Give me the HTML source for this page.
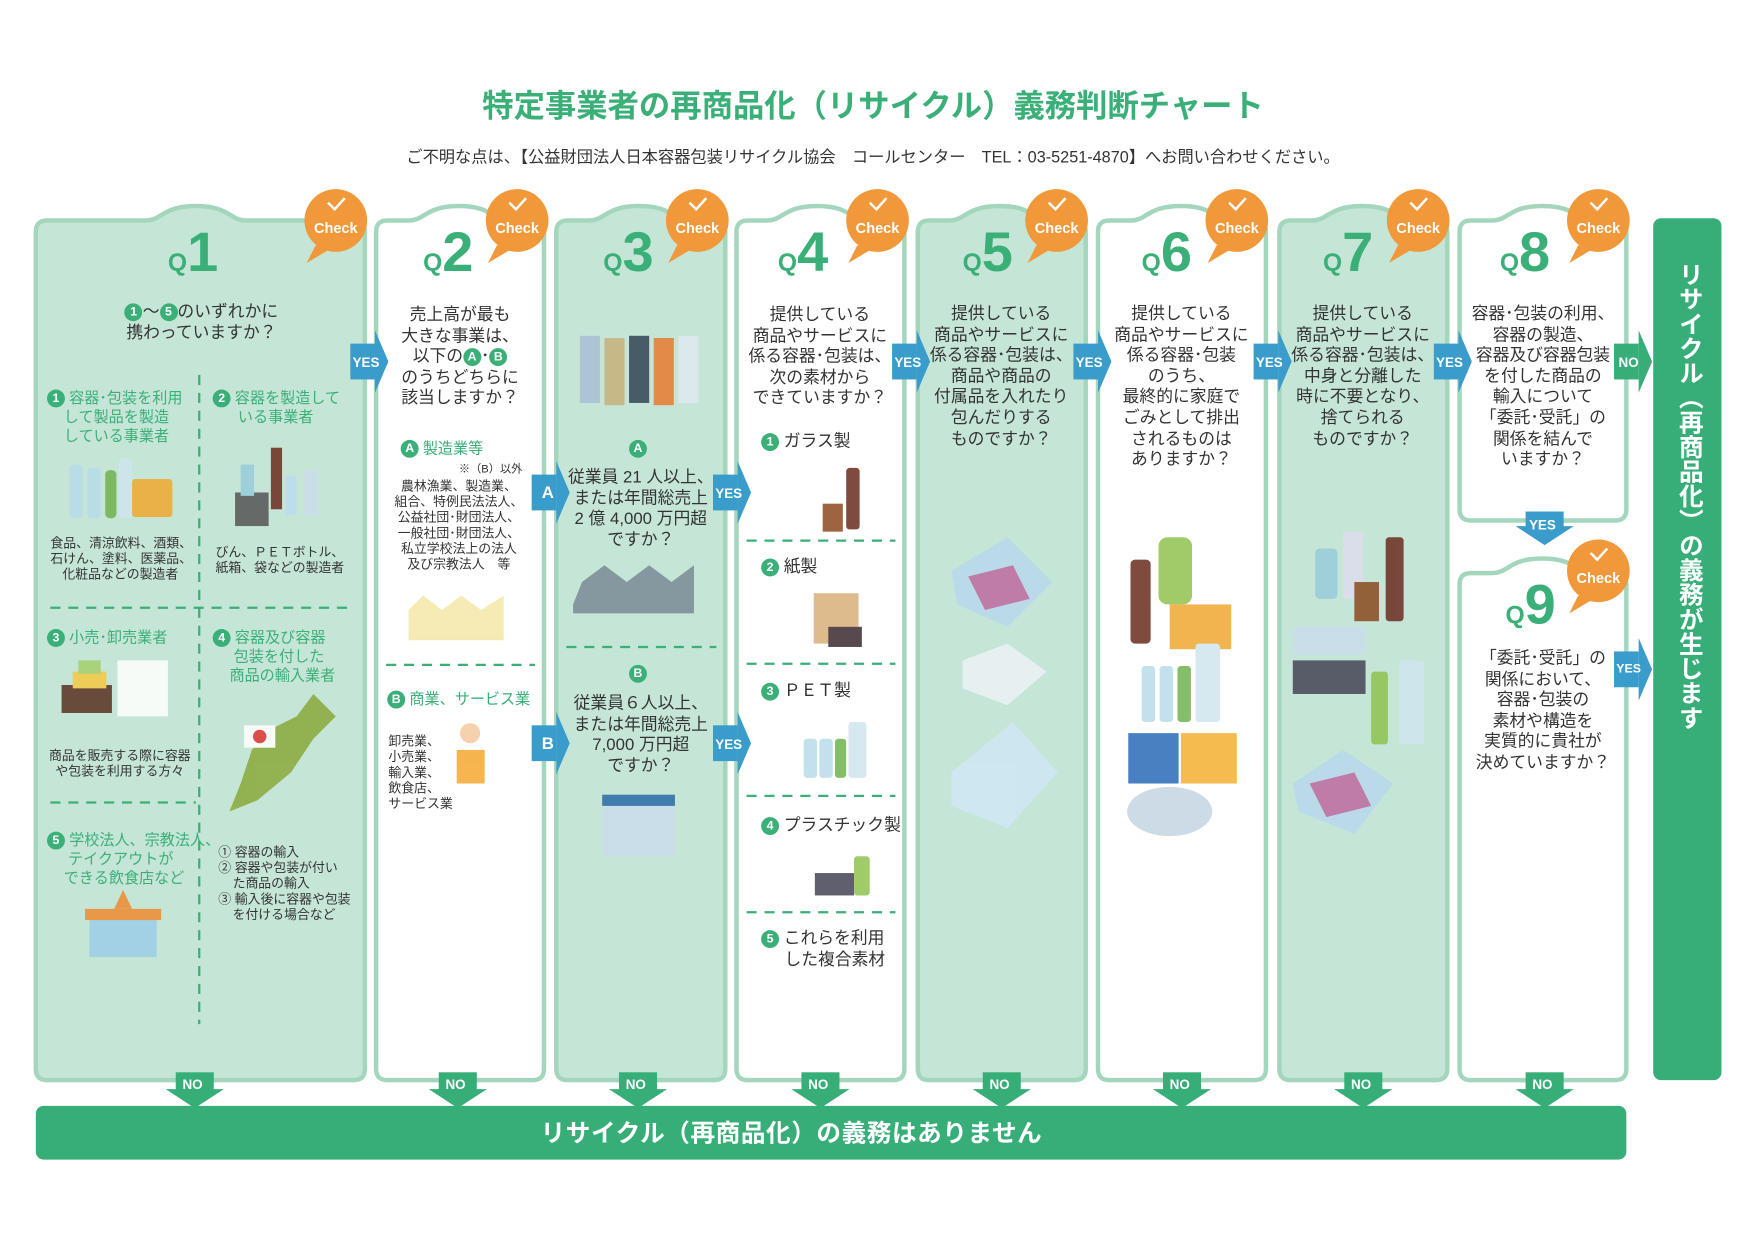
<!DOCTYPE html>
<html><head><meta charset="utf-8"><style>
html,body{margin:0;padding:0;background:#fff;}
body{width:1754px;height:1241px;overflow:hidden;position:relative;font-family:"Liberation Sans","Noto Sans CJK JP",sans-serif;}
#d{position:absolute;left:0;top:0;width:1560px;height:1104px;transform:scale(1.1193);transform-origin:0 0;}
.t{position:absolute;color:#333;font-size:15px;line-height:18.6px;text-align:center;white-space:nowrap;}
.g{color:#3aaf78;}
.s{font-size:11.5px;line-height:14px;}
.m{font-size:13.5px;line-height:17px;}
.c{display:inline-block;width:16px;height:16px;border-radius:50%;background:#3aaf78;color:#fff;font-size:11px;line-height:16px;text-align:center;font-weight:bold;vertical-align:1px;}
.q{position:absolute;color:#3aaf78;font-weight:bold;font-size:50px;line-height:50px;}
.q small{font-size:22px;}
.w{position:absolute;color:#fff;font-weight:bold;font-size:12px;}
</style></head><body><div id="d">
<svg width="1560" height="1104" style="position:absolute;left:0;top:0">
<defs>
<g id="chk"><path d="M-18,22 L-26,38 L-6,26 Z" fill="#f0983a"/><circle r="28" fill="#f0983a"/><path d="M-7,-16 L-1,-10 L8,-20" stroke="#fff" stroke-width="2.2" fill="none"/></g>
<g id="ya"><rect x="0" y="-16" width="22" height="32" fill="#3a9ccb"/><path d="M22,-28 L34,0 L22,28 Z" fill="#3a9ccb"/></g>
<g id="na"><rect x="0" y="-16" width="22" height="32" fill="#37ae78"/><path d="M22,-28 L34,0 L22,28 Z" fill="#37ae78"/></g>
<g id="dn"><rect x="-17" y="0" width="34" height="18" fill="#37ae78"/><path d="M-26,15 L26,15 L0,32 Z" fill="#37ae78"/></g>
</defs>
<g stroke="#a3d6bd" stroke-width="4">
<path d="M32,207 Q32,197 42,197 L130,197 C145,197 145,184 175,184 C205,184 205,197 220,197 L316,197 Q326,197 326,207 L326,955 Q326,965 316,965 L42,965 Q32,965 32,955 Z" fill="#c5e6d6"/>
<path d="M336,207 Q336,197 346,197 L365,197 C380,197 380,184 410,184 C440,184 440,197 455,197 L476,197 Q486,197 486,207 L486,955 Q486,965 476,965 L346,965 Q336,965 336,955 Z" fill="#fff"/>
<path d="M497,207 Q497,197 507,197 L526,197 C541,197 541,184 571,184 C601,184 601,197 616,197 L638,197 Q648,197 648,207 L648,955 Q648,965 638,965 L507,965 Q497,965 497,955 Z" fill="#c5e6d6"/>
<path d="M658,207 Q658,197 668,197 L685,197 C700,197 700,184 730,184 C760,184 760,197 775,197 L798,197 Q808,197 808,207 L808,955 Q808,965 798,965 L668,965 Q658,965 658,955 Z" fill="#fff"/>
<path d="M820,207 Q820,197 830,197 L848,197 C863,197 863,184 893,184 C923,184 923,197 938,197 L960,197 Q970,197 970,207 L970,955 Q970,965 960,965 L830,965 Q820,965 820,955 Z" fill="#c5e6d6"/>
<path d="M981,207 Q981,197 991,197 L1010,197 C1025,197 1025,184 1055,184 C1085,184 1085,197 1100,197 L1121,197 Q1131,197 1131,207 L1131,955 Q1131,965 1121,965 L991,965 Q981,965 981,955 Z" fill="#fff"/>
<path d="M1143,207 Q1143,197 1153,197 L1172,197 C1187,197 1187,184 1217,184 C1247,184 1247,197 1262,197 L1283,197 Q1293,197 1293,207 L1293,955 Q1293,965 1283,965 L1153,965 Q1143,965 1143,955 Z" fill="#c5e6d6"/>
<path d="M1304,207 Q1304,197 1314,197 L1333,197 C1348,197 1348,184 1378,184 C1408,184 1408,197 1423,197 L1443,197 Q1453,197 1453,207 L1453,455 Q1453,465 1443,465 L1314,465 Q1304,465 1304,455 Z" fill="#fff"/>
<path d="M1304,522 Q1304,512 1314,512 L1333,512 C1348,512 1348,499 1378,499 C1408,499 1408,512 1423,512 L1443,512 Q1453,512 1453,522 L1453,955 Q1453,965 1443,965 L1314,965 Q1304,965 1304,955 Z" fill="#fff"/>
</g>
<rect x="1477" y="195" width="61" height="770" rx="7" fill="#37ae78"/>
<rect x="32" y="988" width="1421" height="48" rx="7" fill="#37ae78"/>
<g stroke="#3aaf78" stroke-width="2" stroke-dasharray="9,7">
<line x1="178" y1="335" x2="178" y2="915"/><line x1="45" y1="543" x2="310" y2="543"/><line x1="45" y1="717" x2="175" y2="717"/>
<line x1="345" y1="594" x2="478" y2="594"/><line x1="506" y1="578" x2="640" y2="578"/>
<line x1="667" y1="483" x2="800" y2="483"/><line x1="667" y1="593" x2="800" y2="593"/><line x1="667" y1="711" x2="800" y2="711"/><line x1="667" y1="815" x2="800" y2="815"/>
</g>
<use href="#chk" x="300" y="197"/><use href="#chk" x="462" y="197"/><use href="#chk" x="623" y="197"/><use href="#chk" x="784" y="197"/><use href="#chk" x="944" y="197"/><use href="#chk" x="1105" y="197"/><use href="#chk" x="1267" y="197"/><use href="#chk" x="1428" y="197"/><use href="#chk" x="1428" y="510"/>
<use href="#ya" x="313" y="323"/><use href="#ya" x="475" y="440"/><use href="#ya" x="475" y="664"/><use href="#ya" x="637" y="440"/><use href="#ya" x="637" y="664"/><use href="#ya" x="797" y="323"/><use href="#ya" x="959" y="323"/><use href="#ya" x="1120" y="323"/><use href="#ya" x="1281" y="323"/><use href="#na" x="1442" y="323"/><use href="#ya" x="1442" y="598"/>
<g transform="translate(1380,457)"><rect x="-17" y="0" width="34" height="16" fill="#3a9ccb"/><path d="M-26,13 L26,13 L0,30 Z" fill="#3a9ccb"/></g>
<use href="#dn" x="174" y="958"/><use href="#dn" x="409" y="958"/><use href="#dn" x="570" y="958"/><use href="#dn" x="733" y="958"/><use href="#dn" x="895" y="958"/><use href="#dn" x="1056" y="958"/><use href="#dn" x="1218" y="958"/><use href="#dn" x="1380" y="958"/>
<g opacity="0.85">
<rect x="62" y="415" width="12" height="48" rx="4" fill="#b8dcea"/><rect x="78" y="418" width="12" height="45" rx="4" fill="#b8dcea"/><rect x="94" y="420" width="10" height="43" rx="4" fill="#6fb34f"/><rect x="106" y="410" width="12" height="53" rx="4" fill="#cfe5ee"/><rect x="118" y="428" width="36" height="34" rx="3" fill="#f0a830"/>
<rect x="210" y="440" width="30" height="30" fill="#555"/><rect x="215" y="415" width="12" height="28" fill="#9cd"/><rect x="242" y="400" width="10" height="55" fill="#6b2c1e"/><rect x="255" y="425" width="10" height="35" fill="#bde"/><rect x="272" y="420" width="12" height="40" fill="#cde"/>
<rect x="55" y="612" width="45" height="25" fill="#5a3020"/><rect x="65" y="600" width="30" height="15" fill="#f5c842"/><rect x="70" y="590" width="20" height="12" fill="#a5d06a"/><rect x="105" y="590" width="45" height="50" fill="#fff"/>
<path d="M215,700 L225,670 L245,650 L265,640 L280,620 L300,640 L280,660 L260,690 L230,715 L205,725 Z" fill="#8aa83a"/><rect x="218" y="648" width="28" height="20" fill="#fff"/><circle cx="232" cy="658" r="6" fill="#d33"/>
<rect x="80" y="820" width="60" height="35" fill="#9ccde8"/><rect x="76" y="812" width="68" height="10" fill="#f08a30"/><path d="M110,795 L102,812 L118,812 Z" fill="#f08a30"/>
<path d="M365,545 L365,572 L450,572 L450,532 L430,545 L412,532 L395,545 L378,532 Z" fill="#f5e6a8"/>
<circle cx="420" cy="655" r="9" fill="#f4c9a0"/><rect x="408" y="670" width="25" height="30" fill="#f5a830"/>
<g fill="#a8bfd6"><rect x="518" y="300" width="18" height="60"/><rect x="540" y="302" width="18" height="60" fill="#c8b27a"/><rect x="562" y="300" width="18" height="60" fill="#345"/><rect x="584" y="302" width="18" height="60" fill="#e87a30"/><rect x="606" y="300" width="18" height="60" fill="#dfeaf2"/></g>
<path d="M512,540 L512,548 L620,548 L620,505 L600,520 L580,505 L560,520 L540,505 L520,520 Z" fill="#7a8a95"/>
<rect x="538" y="720" width="65" height="45" fill="#cde"/><rect x="538" y="710" width="65" height="10" fill="#2a6aa8"/>
<rect x="756" y="418" width="12" height="55" rx="3" fill="#6b2c1e"/><rect x="735" y="450" width="18" height="25" fill="#8b4a1e"/>
<rect x="727" y="530" width="40" height="45" fill="#d9b07a"/><rect x="740" y="560" width="30" height="18" fill="#3a2a30"/>
<rect x="718" y="660" width="12" height="35" rx="3" fill="#b8dcea"/><rect x="732" y="660" width="12" height="35" rx="3" fill="#b8dcea"/><rect x="746" y="660" width="10" height="35" rx="3" fill="#6fb34f"/><rect x="758" y="645" width="16" height="50" rx="3" fill="#cfe5ee"/>
<rect x="728" y="780" width="35" height="20" fill="#445"/><rect x="763" y="765" width="14" height="35" rx="3" fill="#8fc250"/>
<path d="M850,510 L900,480 L940,520 L900,560 L855,540 Z" fill="#b9d9ee"/><path d="M865,515 L905,505 L920,535 L880,545 Z" fill="#c06aa0"/>
<path d="M860,590 L900,575 L935,600 L900,630 L860,615 Z" fill="#eef2f5"/>
<path d="M850,690 L905,645 L945,690 L900,740 L850,720 Z" fill="#cfe6f5"/>
<rect x="1010" y="500" width="18" height="75" rx="4" fill="#6b2c1e"/><rect x="1035" y="480" width="30" height="60" rx="8" fill="#8fc250"/><rect x="1045" y="540" width="55" height="40" fill="#f0a830"/>
<rect x="1020" y="595" width="12" height="50" rx="3" fill="#b8dcea"/><rect x="1036" y="595" width="12" height="50" rx="3" fill="#b8dcea"/><rect x="1052" y="595" width="12" height="50" rx="3" fill="#6fb34f"/><rect x="1068" y="575" width="22" height="70" rx="3" fill="#cfe5ee"/>
<rect x="1008" y="655" width="45" height="45" fill="#2a6ab8"/><rect x="1055" y="655" width="50" height="45" fill="#f5b030"/><ellipse cx="1045" cy="725" rx="38" ry="22" fill="#c5d5e2"/>
<rect x="1175" y="490" width="20" height="45" rx="4" fill="#9cd"/><rect x="1200" y="475" width="18" height="60" fill="#dde"/><rect x="1238" y="480" width="16" height="75" rx="3" fill="#6b2c1e"/><rect x="1210" y="520" width="22" height="35" fill="#8b4a1e"/>
<rect x="1155" y="560" width="65" height="25" fill="#cde"/><rect x="1155" y="590" width="65" height="30" fill="#445"/>
<rect x="1225" y="600" width="15" height="65" rx="3" fill="#8fc250"/><rect x="1250" y="590" width="22" height="75" rx="3" fill="#cfe5ee"/>
<path d="M1155,700 L1200,670 L1245,700 L1210,745 L1160,725 Z" fill="#b9d9ee"/><path d="M1170,700 L1210,690 L1225,720 L1185,730 Z" fill="#c06aa0"/>
</g>
</svg>

<div class="t g" style="left:0;width:1560px;top:78px;font-size:28px;line-height:34px;font-weight:bold">特定事業者の再商品化（リサイクル）義務判断チャート</div>
<div class="t" style="left:0;width:1560px;top:132px;font-size:14.5px">ご不明な点は、【公益財団法人日本容器包装リサイクル協会　コールセンター　TEL：03-5251-4870】へお問い合わせください。</div>

<div class="w" style="left:270px;top:196px;width:60px;text-align:center;font-size:13px">Check</div>
<div class="w" style="left:432px;top:196px;width:60px;text-align:center;font-size:13px">Check</div>
<div class="w" style="left:593px;top:196px;width:60px;text-align:center;font-size:13px">Check</div>
<div class="w" style="left:754px;top:196px;width:60px;text-align:center;font-size:13px">Check</div>
<div class="w" style="left:914px;top:196px;width:60px;text-align:center;font-size:13px">Check</div>
<div class="w" style="left:1075px;top:196px;width:60px;text-align:center;font-size:13px">Check</div>
<div class="w" style="left:1237px;top:196px;width:60px;text-align:center;font-size:13px">Check</div>
<div class="w" style="left:1398px;top:196px;width:60px;text-align:center;font-size:13px">Check</div>
<div class="w" style="left:1398px;top:509px;width:60px;text-align:center;font-size:13px">Check</div>

<div class="q" style="left:150px;top:200px"><small>Q</small>1</div>
<div class="q" style="left:378px;top:200px"><small>Q</small>2</div>
<div class="q" style="left:539px;top:200px"><small>Q</small>3</div>
<div class="q" style="left:695px;top:200px"><small>Q</small>4</div>
<div class="q" style="left:860px;top:200px"><small>Q</small>5</div>
<div class="q" style="left:1020px;top:200px"><small>Q</small>6</div>
<div class="q" style="left:1182px;top:200px"><small>Q</small>7</div>
<div class="q" style="left:1340px;top:200px"><small>Q</small>8</div>
<div class="q" style="left:1345px;top:515px"><small>Q</small>9</div>

<div class="w" style="left:315px;top:317px">YES</div>
<div class="w" style="left:484px;top:432px;font-size:15px">A</div>
<div class="w" style="left:484px;top:656px;font-size:15px">B</div>
<div class="w" style="left:639px;top:434px">YES</div>
<div class="w" style="left:639px;top:658px">YES</div>
<div class="w" style="left:799px;top:317px">YES</div>
<div class="w" style="left:961px;top:317px">YES</div>
<div class="w" style="left:1122px;top:317px">YES</div>
<div class="w" style="left:1283px;top:317px">YES</div>
<div class="w" style="left:1446px;top:317px">NO</div>
<div class="w" style="left:1444px;top:592px;font-size:11px">YES</div>
<div class="w" style="left:1366px;top:462px">YES</div>
<div class="w" style="left:163px;top:962px">NO</div><div class="w" style="left:398px;top:962px">NO</div><div class="w" style="left:559px;top:962px">NO</div><div class="w" style="left:722px;top:962px">NO</div><div class="w" style="left:884px;top:962px">NO</div><div class="w" style="left:1045px;top:962px">NO</div><div class="w" style="left:1207px;top:962px">NO</div><div class="w" style="left:1369px;top:962px">NO</div>

<div class="t" style="left:40px;width:280px;top:270px"><span class="c">1</span>〜<span class="c">5</span>のいずれかに<br>携わっていますか？</div>
<div class="t g m" style="left:42px;top:347px;text-align:left"><span class="c">1</span> 容器･包装を利用<br>&nbsp;&nbsp;&nbsp;&nbsp;して製品を製造<br>&nbsp;&nbsp;&nbsp;&nbsp;している事業者</div>
<div class="t g m" style="left:190px;top:347px;text-align:left"><span class="c">2</span> 容器を製造して<br>&nbsp;&nbsp;&nbsp;&nbsp;&nbsp;&nbsp;いる事業者</div>
<div class="t s" style="left:45px;width:125px;top:479px">食品、清涼飲料、酒類、<br>石けん、塗料、医薬品、<br>化粧品などの製造者</div>
<div class="t s" style="left:185px;width:130px;top:487px">びん、ＰＥＴボトル、<br>紙箱、袋などの製造者</div>
<div class="t g m" style="left:42px;top:561px;text-align:left"><span class="c">3</span> 小売･卸売業者</div>
<div class="t g m" style="left:190px;top:561px;text-align:left"><span class="c">4</span> 容器及び容器<br>&nbsp;&nbsp;&nbsp;&nbsp;&nbsp;包装を付した<br>&nbsp;&nbsp;&nbsp;&nbsp;商品の輸入業者</div>
<div class="t s" style="left:42px;width:130px;top:669px">商品を販売する際に容器<br>や包装を利用する方々</div>
<div class="t g m" style="left:42px;top:742px;text-align:left"><span class="c">5</span> 学校法人、宗教法人、<br>&nbsp;&nbsp;&nbsp;&nbsp;&nbsp;テイクアウトが<br>&nbsp;&nbsp;&nbsp;&nbsp;できる飲食店など</div>
<div class="t s" style="left:195px;top:755px;text-align:left">① 容器の輸入<br>② 容器や包装が付い<br>&nbsp;&nbsp;&nbsp;&nbsp;た商品の輸入<br>③ 輸入後に容器や包装<br>&nbsp;&nbsp;&nbsp;&nbsp;を付ける場合など</div>

<div class="t" style="left:340px;width:142px;top:273px">売上高が最も<br>大きな事業は、<br>以下の<span class="c">A</span>･<span class="c">B</span><br>のうちどちらに<br>該当しますか？</div>
<div class="t g m" style="left:358px;top:392px;text-align:left"><span class="c">A</span> 製造業等</div>
<div class="t" style="left:410px;top:411px;font-size:10px">※（B）以外</div>
<div class="t s" style="left:340px;width:140px;top:428px">農林漁業、製造業、<br>組合、特例民法法人、<br>公益社団･財団法人、<br>一般社団･財団法人、<br>私立学校法上の法人<br>及び宗教法人　等</div>
<div class="t g m" style="left:346px;top:616px;text-align:left"><span class="c">B</span> 商業、サービス業</div>
<div class="t s" style="left:347px;top:656px;text-align:left">卸売業、<br>小売業、<br>輸入業、<br>飲食店、<br>サービス業</div>

<div class="t" style="left:562px;top:392px"><span class="c">A</span></div>
<div class="t" style="left:500px;width:145px;top:418px">従業員 21 人以上、<br>または年間総売上<br>2 億 4,000 万円超<br>ですか？</div>
<div class="t" style="left:562px;top:593px"><span class="c">B</span></div>
<div class="t" style="left:500px;width:145px;top:620px">従業員６人以上、<br>または年間総売上<br>7,000 万円超<br>ですか？</div>

<div class="t" style="left:660px;width:145px;top:273px">提供している<br>商品やサービスに<br>係る容器･包装は、<br>次の素材から<br>できていますか？</div>
<div class="t" style="left:680px;top:386px;text-align:left"><span class="c">1</span> ガラス製</div>
<div class="t" style="left:680px;top:498px;text-align:left"><span class="c">2</span> 紙製</div>
<div class="t" style="left:680px;top:609px;text-align:left"><span class="c">3</span> ＰＥＴ製</div>
<div class="t" style="left:680px;top:729px;text-align:left"><span class="c">4</span> プラスチック製</div>
<div class="t" style="left:680px;top:830px;text-align:left"><span class="c">5</span> これらを利用<br>&nbsp;&nbsp;&nbsp;&nbsp;&nbsp;した複合素材</div>

<div class="t" style="left:822px;width:145px;top:272px">提供している<br>商品やサービスに<br>係る容器･包装は、<br>商品や商品の<br>付属品を入れたり<br>包んだりする<br>ものですか？</div>
<div class="t" style="left:983px;width:145px;top:272px">提供している<br>商品やサービスに<br>係る容器･包装<br>のうち、<br>最終的に家庭で<br>ごみとして排出<br>されるものは<br>ありますか？</div>
<div class="t" style="left:1145px;width:145px;top:272px">提供している<br>商品やサービスに<br>係る容器･包装は、<br>中身と分離した<br>時に不要となり、<br>捨てられる<br>ものですか？</div>
<div class="t" style="left:1306px;width:145px;top:272px">容器･包装の利用、<br>容器の製造、<br>容器及び容器包装<br>を付した商品の<br>輸入について<br>「委託･受託」の<br>関係を結んで<br>いますか？</div>
<div class="t" style="left:1306px;width:145px;top:580px">「委託･受託」の<br>関係において、<br>容器･包装の<br>素材や構造を<br>実質的に貴社が<br>決めていますか？</div>

<div style="position:absolute;left:1492px;top:234px;writing-mode:vertical-rl;color:#fff;font-weight:bold;font-size:22px;line-height:34px;letter-spacing:0">リサイクル（再商品化）の義務が生じます</div>
<div class="t" style="left:483px;top:999px;text-align:left;color:#fff;font-weight:bold;font-size:22px;line-height:28px;letter-spacing:0.5px">リサイクル（再商品化）の義務はありません</div>
</div></body></html>
